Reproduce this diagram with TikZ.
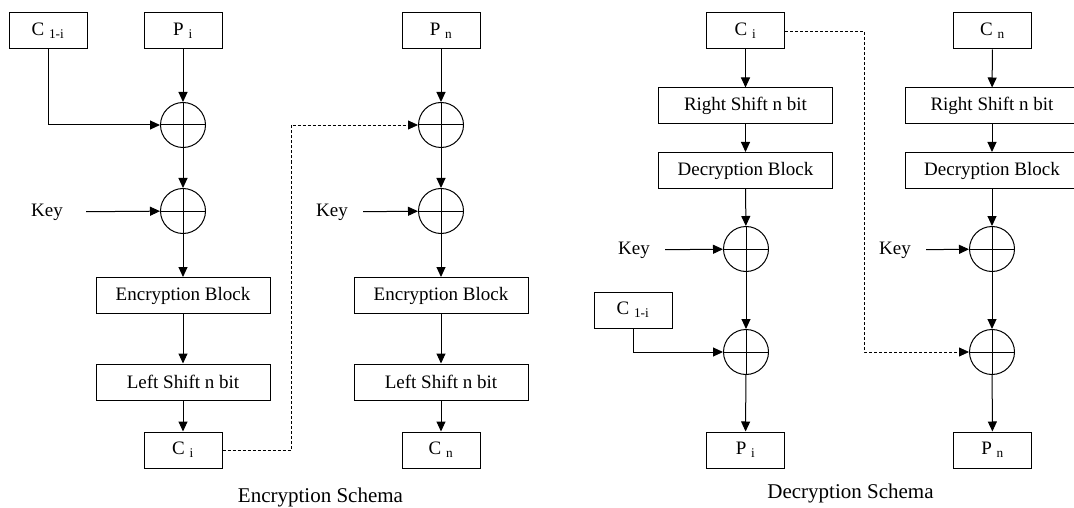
\documentclass[tikz,border=0pt]{standalone}
\usepackage{fontspec}
\setmainfont{Liberation Serif}
\usetikzlibrary{arrows.meta, positioning}

\begin{document}
\begin{tikzpicture}[
    x=1pt, y=-1pt,
    box/.style={draw, line width=1pt, minimum width=78pt, minimum height=36pt,
                inner sep=0pt, font=\fontsize{19}{23}\selectfont},
    wide/.style={box, minimum width=174pt},
    xor/.style={draw, circle, line width=1pt, minimum size=45pt, inner sep=0pt,
                path picture={\draw[line width=1pt]
                  (path picture bounding box.north) -- (path picture bounding box.south)
                  (path picture bounding box.west)  -- (path picture bounding box.east);}},
    keylbl/.style={inner xsep=15pt, font=\fontsize{19}{23}\selectfont},
    caption/.style={font=\fontsize{21}{25}\selectfont},
    arr/.style={-{Triangle[length=10pt, width=9pt]}, line width=1pt},
    chain/.style={arr, line width=0.8pt, dash pattern=on 3pt off 2pt}
]
\useasboundingbox (0,0) rectangle (1074,508);

% ---- ENCRYPTION (first block) ----
\node[box]  (e_c1i) at (48,31)    {C \textsubscript{1-i}};
\node[box]  (e_pi)  at (183,31)   {P \textsubscript{i}};
\node[xor]  (e_x1)  at (183,125)  {};
\node[xor]  (e_x2)  at (183,211)  {};
\node[keylbl] (e_k1) at (47,212)  {Key};
\node[wide] (e_eb1) at (183,295.5) {Encryption Block};
\node[wide] (e_ls1) at (183,382)  {Left Shift n bit};
\node[box]  (e_ci)  at (183,450)  {C \textsubscript{i}};

\draw[arr] (e_pi)  -- (e_x1);
\draw[arr] (e_c1i) |- (e_x1);
\draw[arr] (e_x1)  -- (e_x2);
\draw[arr, shorten <=8pt] (e_k1) -- (e_x2);
\draw[arr] (e_x2)  -- (e_eb1);
\draw[arr] (e_eb1) -- (e_ls1);
\draw[arr] (e_ls1) -- (e_ci);

% ---- ENCRYPTION (last block) ----
\node[box]  (e_pn)  at (441,31)   {P \textsubscript{n}};
\node[xor]  (e_x3)  at (441,125)  {};
\node[xor]  (e_x4)  at (441,211)  {};
\node[keylbl] (e_k2) at (332,212) {Key};
\node[wide] (e_eb2) at (441,295.5) {Encryption Block};
\node[wide] (e_ls2) at (441,382)  {Left Shift n bit};
\node[box]  (e_cn)  at (441,450)  {C \textsubscript{n}};

\draw[arr] (e_pn)  -- (e_x3);
\draw[arr] (e_x3)  -- (e_x4);
\draw[arr] (e_k2)  -- (e_x4);
\draw[arr] (e_x4)  -- (e_eb2);
\draw[arr] (e_eb2) -- (e_ls2);
\draw[arr] (e_ls2) -- (e_cn);

% chaining C_i into the next block
\coordinate (e_turn) at (291,450);
\draw[chain] (e_ci.east) -- (e_turn) |- (e_x3.west);

\node[caption] (e_lbl) at (320.5,497) {Encryption Schema};

% ---- DECRYPTION (first block) ----
\node[box]  (d_ci)  at (745.5,31)  {C \textsubscript{i}};
\node[wide] (d_rs1) at (745.5,106) {Right Shift n bit};
\node[wide] (d_db1) at (745.5,170.5) {Decryption Block};
\node[xor]  (d_x1)  at (746,249)   {};
\node[keylbl] (d_k1) at (634,250)  {Key};
\node[box]  (d_c1i) at (633,310)   {C \textsubscript{1-i}};
\node[xor]  (d_x2)  at (746,352)   {};
\node[box]  (d_pi)  at (745.5,450) {P \textsubscript{i}};

\draw[arr] (d_ci)  -- (d_rs1);
\draw[arr] (d_rs1) -- (d_db1);
\draw[arr] (d_db1) -- (d_x1);
\draw[arr] (d_k1)  -- (d_x1);
\draw[arr] (d_x1)  -- (d_x2);
\draw[arr] (d_c1i) |- (d_x2);
\draw[arr] (d_x2)  -- (d_pi);

% ---- DECRYPTION (last block) ----
\node[box]  (d_cn)  at (992.5,31)  {C \textsubscript{n}};
\node[wide] (d_rs2) at (992,106)   {Right Shift n bit};
\node[wide] (d_db2) at (992,170.5) {Decryption Block};
\node[xor]  (d_x3)  at (992,249)   {};
\node[keylbl] (d_k2) at (895,250)  {Key};
\node[xor]  (d_x4)  at (992,352)   {};
\node[box]  (d_pn)  at (992.5,450) {P \textsubscript{n}};

\draw[arr] (d_cn)  -- (d_rs2);
\draw[arr] (d_rs2) -- (d_db2);
\draw[arr] (d_db2) -- (d_x3);
\draw[arr] (d_k2)  -- (d_x3);
\draw[arr] (d_x3)  -- (d_x4);
\draw[arr] (d_x4)  -- (d_pn);

% C_i fed forward to the last block
\coordinate (d_turn) at (864,31);
\draw[chain] (d_ci.east) -- (d_turn) |- (d_x4.west);

\node[caption] (d_lbl) at (850.5,493) {Decryption Schema};

\end{tikzpicture}
\end{document}
